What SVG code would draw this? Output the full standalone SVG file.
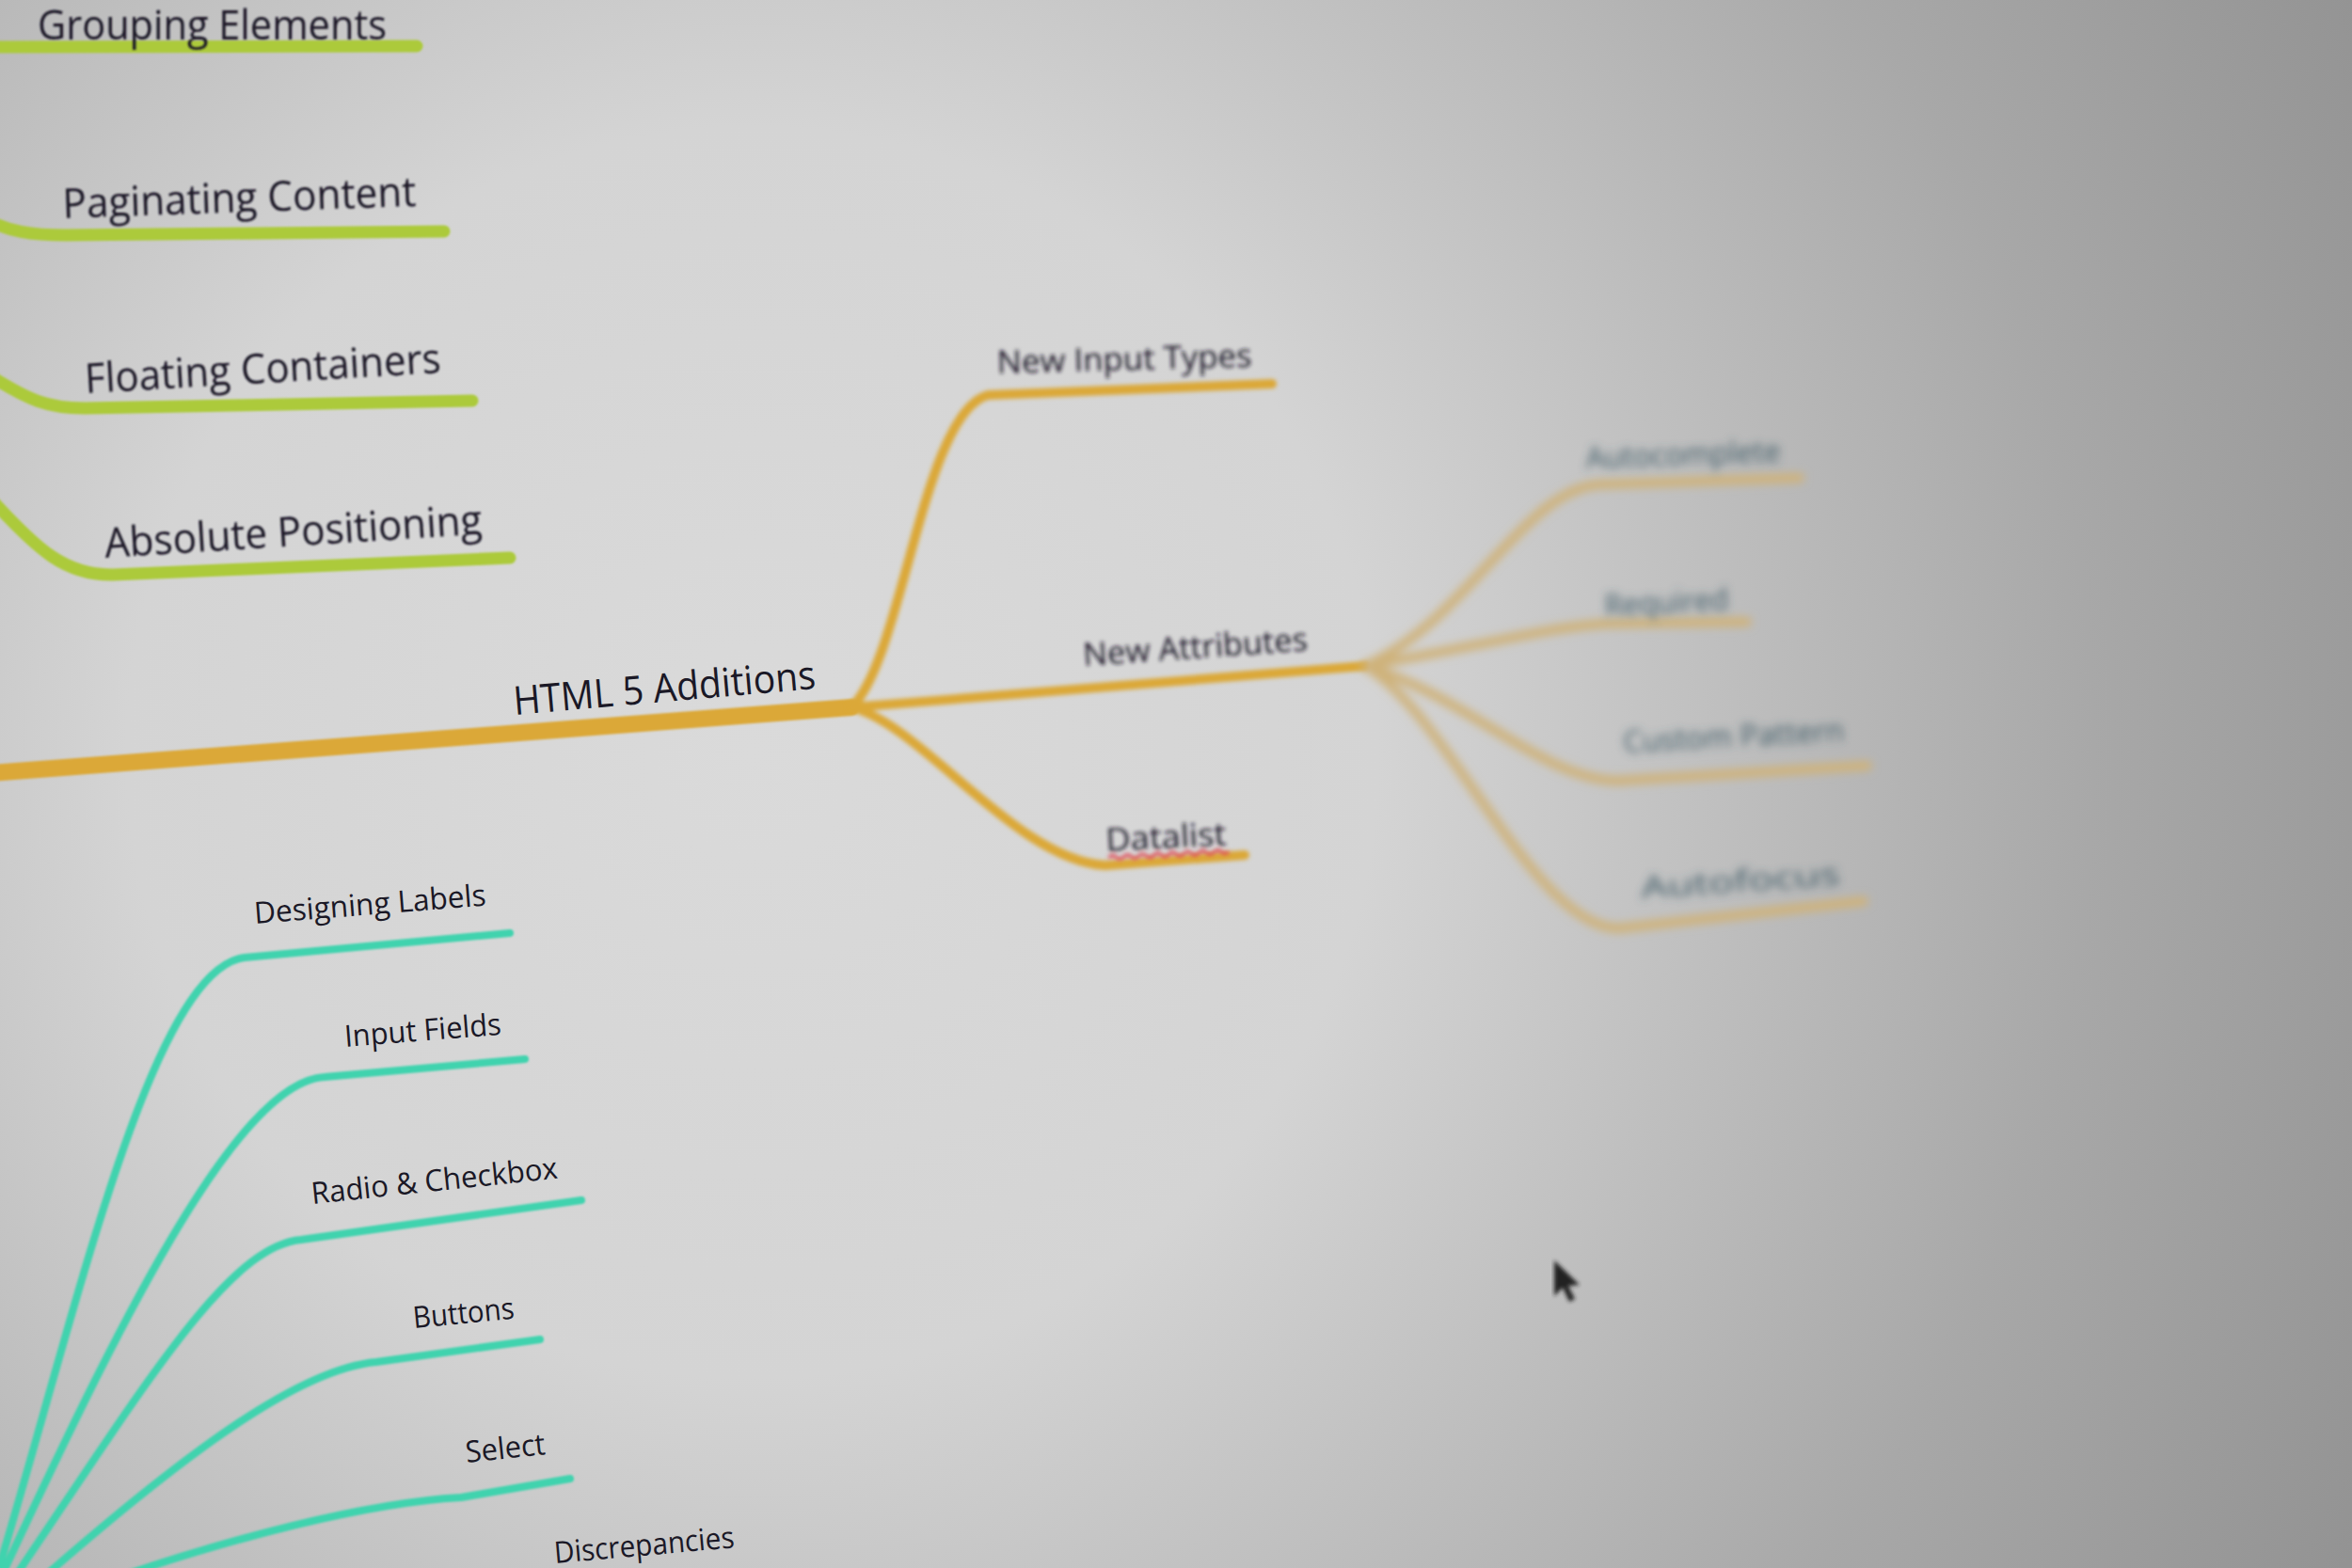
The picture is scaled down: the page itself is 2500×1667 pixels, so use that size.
<svg xmlns="http://www.w3.org/2000/svg" width="2500" height="1667" viewBox="0 0 2500 1667">
<defs>
<radialGradient id="bg" cx="800" cy="800" r="1900" gradientUnits="userSpaceOnUse">
<stop offset="0" stop-color="#dadada"/>
<stop offset="0.35" stop-color="#d4d4d4"/>
<stop offset="0.75" stop-color="#a8a8a8"/>
<stop offset="1" stop-color="#939393"/>
</radialGradient>
<filter id="b1" x="-10%" y="-50%" width="120%" height="200%"><feGaussianBlur stdDeviation="1.2"/></filter>
<filter id="b2" x="-10%" y="-50%" width="120%" height="200%"><feGaussianBlur stdDeviation="2"/></filter>
<filter id="b5" x="-20%" y="-80%" width="140%" height="260%"><feGaussianBlur stdDeviation="5"/></filter>
</defs>
<style>
text{font-family:"Open Sans","DejaVu Sans",sans-serif;fill:#1a1826}
.c{fill:none;stroke-linecap:round;stroke-linejoin:round}
.g{stroke:#acca3a;stroke-width:13}
.o{stroke:#dba838;stroke-width:10}
.lo{stroke:#cfb27a;stroke-width:10}
.t{stroke:#3fd3ae;stroke-width:8}
.big{font-size:44px}
.mid{font-size:34px}
.sm{font-size:32px}
.far{fill:#3e5a66}
</style>
<rect width="2500" height="1667" fill="url(#bg)"/>
<g id="connectors">
<g filter="url(#b1)">
<path class="c g" d="M -10 50 L 443 49"/>
<path class="c g" d="M -10 236 C 10 245, 30 250, 70 250 L 472 246"/>
<path class="c g" d="M -10 400 C 30 425, 50 434, 90 434 L 502 426"/>
<path class="c g" d="M -10 530 C 40 585, 70 612, 120 611 L 542 593"/>
<path class="c o" style="stroke-width:18" d="M -10 822 L 905 752"/>
<path class="c t" d="M -5 1680 C 80 1400, 160 1030, 260 1018 L 542 992"/>
<path class="c t" d="M -5 1690 C 120 1420, 250 1150, 345 1145 L 558 1126"/>
<path class="c t" d="M 0 1700 C 150 1480, 240 1325, 320 1318 L 618 1276"/>
<path class="c t" d="M 20 1700 C 200 1540, 320 1455, 400 1448 L 574 1424"/>
<path class="c t" d="M 60 1700 C 250 1630, 400 1597, 490 1592 L 606 1572"/>
</g>
<g filter="url(#b2)">
<path class="c o" d="M 905 752 C 960 700, 980 440, 1050 420 L 1352 408"/>
<path class="c o" d="M 905 752 L 1451 708"/>
<path class="c o" d="M 905 752 C 980 770, 1080 915, 1175 920 L 1323 909"/>
</g>
<g filter="url(#b5)">
<path class="c lo" d="M 1451 708 C 1560 660, 1620 520, 1700 515 L 1913 508"/>
<path class="c lo" d="M 1451 708 C 1560 690, 1650 665, 1710 663 L 1857 661"/>
<path class="c lo" d="M 1451 708 C 1560 740, 1640 830, 1720 830 L 1985 814"/>
<path class="c lo" d="M 1451 708 C 1540 760, 1630 985, 1720 987 L 1981 958"/>
</g>
</g>
<g id="n-grouping" filter="url(#b1)"><text class="big" x="40" y="42" textLength="371" lengthAdjust="spacingAndGlyphs">Grouping Elements</text></g>
<g id="n-paginating" filter="url(#b1)"><text class="big" x="67" y="232" textLength="376" lengthAdjust="spacingAndGlyphs" transform="rotate(-2 67 232)">Paginating Content</text></g>
<g id="n-floating" filter="url(#b1)"><text class="big" x="91" y="418" textLength="379" lengthAdjust="spacingAndGlyphs" transform="rotate(-3.3 91 418)">Floating Containers</text></g>
<g id="n-absolute" filter="url(#b1)"><text class="big" x="112" y="593" textLength="402" lengthAdjust="spacingAndGlyphs" transform="rotate(-3.6 112 593)">Absolute Positioning</text></g>
<g id="n-html5"><text style="font-size:42px" x="547" y="760" textLength="322" lengthAdjust="spacingAndGlyphs" transform="rotate(-5 547 760)">HTML 5 Additions</text></g>
<g id="n-inputtypes" filter="url(#b2)"><text class="mid" x="1060" y="397" textLength="271" lengthAdjust="spacingAndGlyphs" transform="rotate(-1.5 1060 397)">New Input Types</text></g>
<g id="n-attributes" filter="url(#b2)"><text class="mid" x="1152" y="708" textLength="239" lengthAdjust="spacingAndGlyphs" transform="rotate(-4 1152 708)">New Attributes</text></g>
<g id="n-datalist" filter="url(#b2)"><text class="mid" x="1176" y="905" textLength="128" lengthAdjust="spacingAndGlyphs" transform="rotate(-3 1176 905)">Datalist</text>
<path d="M 1178 912 q 4 -4 8 0 t 8 0 t 8 0 t 8 0 t 8 0 t 8 0 t 8 0 t 8 0 t 8 0 t 8 0 t 8 0 t 8 0 t 8 0 t 8 0 t 8 0 t 8 0" fill="none" stroke="#e04050" stroke-width="3" transform="rotate(-3 1176 905)"/></g>
<g id="n-autocomplete" filter="url(#b5)"><text class="sm far" x="1686" y="498" textLength="207" lengthAdjust="spacingAndGlyphs" transform="rotate(-2 1686 498)">Autocomplete</text></g>
<g id="n-required" filter="url(#b5)"><text class="sm far" x="1706" y="655" textLength="132" lengthAdjust="spacingAndGlyphs" transform="rotate(-3 1706 655)">Required</text></g>
<g id="n-pattern" filter="url(#b5)"><text class="sm far" x="1726" y="800" textLength="235" lengthAdjust="spacingAndGlyphs" transform="rotate(-3 1726 800)">Custom Pattern</text></g>
<g id="n-autofocus" filter="url(#b5)"><text class="sm far" x="1745" y="955" textLength="212" lengthAdjust="spacingAndGlyphs" transform="rotate(-4 1745 955)">Autofocus</text></g>
<g id="n-designing"><text class="sm" x="271" y="982" textLength="247" lengthAdjust="spacingAndGlyphs" transform="rotate(-4.5 271 982)">Designing Labels</text></g>
<g id="n-inputfields"><text class="sm" x="367" y="1113" textLength="167" lengthAdjust="spacingAndGlyphs" transform="rotate(-4.5 367 1113)">Input Fields</text></g>
<g id="n-radio"><text class="sm" x="332" y="1280" textLength="263" lengthAdjust="spacingAndGlyphs" transform="rotate(-6 332 1280)">Radio &amp; Checkbox</text></g>
<g id="n-buttons"><text class="sm" x="440" y="1412" textLength="108" lengthAdjust="spacingAndGlyphs" transform="rotate(-5.5 440 1412)">Buttons</text></g>
<g id="n-select"><text class="sm" x="496" y="1555" textLength="85" lengthAdjust="spacingAndGlyphs" transform="rotate(-6 496 1555)">Select</text></g>
<g id="n-discrepancies"><text class="sm" x="590" y="1662" textLength="192" lengthAdjust="spacingAndGlyphs" transform="rotate(-5 590 1662)">Discrepancies</text></g>
<g id="cursor" filter="url(#b2)"><path d="M 1652 1340 L 1652 1378 L 1661 1369 L 1668 1384 L 1674 1381 L 1667 1367 L 1679 1366 Z" fill="#222"/></g>
</svg>
